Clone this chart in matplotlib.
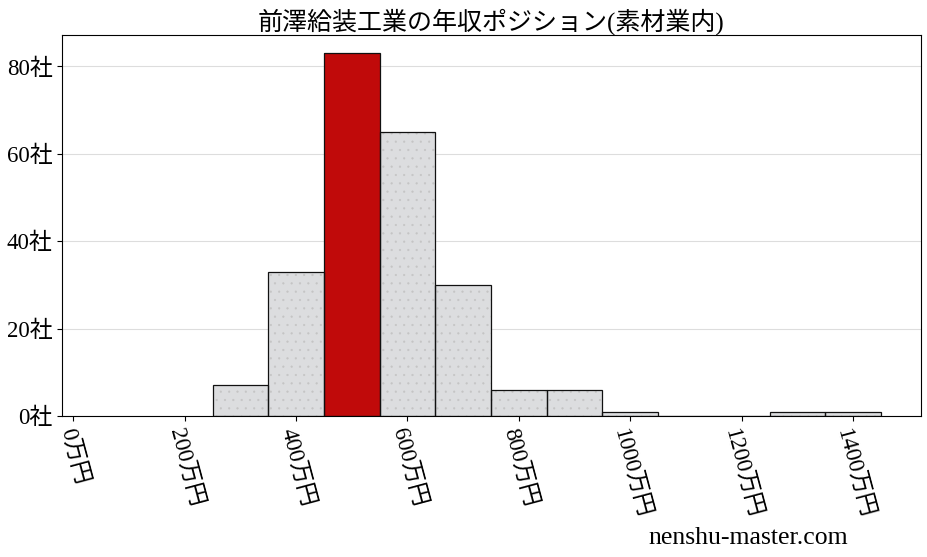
import numpy as np
import matplotlib
matplotlib.use("Agg")
import matplotlib.pyplot as plt

plt.rcParams['font.family'] = ['Liberation Serif', 'Noto Sans CJK JP']
plt.rcParams['hatch.linewidth'] = 0.35

# histogram bins (万円) and company counts
bin_centers = [300, 400, 500, 600, 700, 800, 900, 1000, 1100, 1200, 1300, 1400]
counts = [7, 33, 83, 65, 30, 6, 6, 1, 0, 0, 1, 1]
highlight = 500
xticks = [0, 200, 400, 600, 800, 1000, 1200, 1400]
yticks = [0, 20, 40, 60, 80]
title = "前澤給装工業の年収ポジション(素材業内)"

fig, ax = plt.subplots(figsize=(9.27, 5.57), dpi=100)

colors = ['#c00a0a' if c == highlight else '#dcdddf' for c in bin_centers]
# fill with faint dotted hatch
for c, n, col in zip(bin_centers, counts, colors):
    if n == 0:
        continue
    if col == '#dcdddf':
        ax.bar(c, n, width=100, color=col, edgecolor='#c4c4c4', hatch='..', linewidth=0, zorder=2)
    else:
        ax.bar(c, n, width=100, color=col, linewidth=0, zorder=2)
ax.bar(bin_centers, counts, width=100, fill=False, edgecolor='#111111', linewidth=0.9, zorder=3)

ax.set_xlim(-20, 1521)
ax.set_ylim(0, 87.15)
ax.set_xticks(xticks)
ax.set_xticklabels([f"{v}万円" for v in xticks], rotation=-75, fontsize=16.5,
                   ha='center', va='top')
ax.set_yticks(yticks)
ax.set_yticklabels([f"{v}社" for v in yticks], fontsize=16.5)
ax.yaxis.grid(True, color='#dddddd', linewidth=0.8, zorder=0)
ax.set_axisbelow(True)
ax.set_title(title, fontsize=18, pad=4)

fig.text(0.915, 0.015, "nenshu-master.com", ha='right', va='bottom', fontsize=18.5)

plt.subplots_adjust(left=0.067, right=0.993, top=0.937, bottom=0.253)
fig.savefig("out.png", dpi=100)
